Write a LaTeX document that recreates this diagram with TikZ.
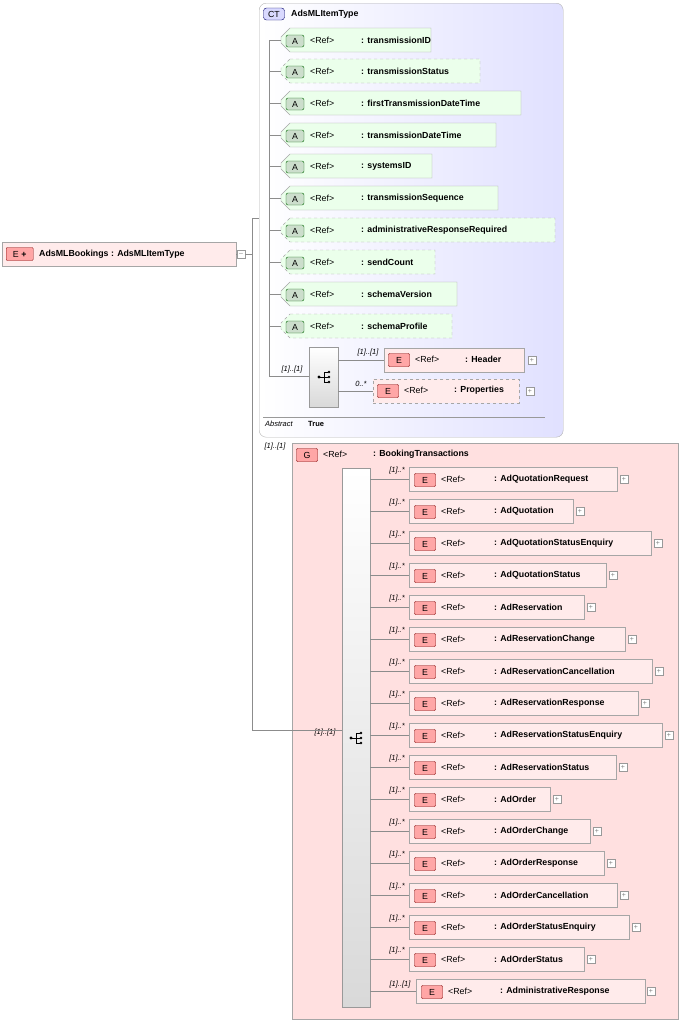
\documentclass[tikz,border=0pt]{standalone}
\usepackage{fontspec}
\setmainfont{Liberation Sans}
\begin{document}
\begin{tikzpicture}[x=1pt,y=-1pt,font=\fontsize{8.8}{10}\selectfont,
  lin/.style={draw=black!45,line width=0.5pt},
  elbox/.style={draw=black!35,fill=red!8,minimum height=24pt,anchor=west,inner sep=0pt},
  attbox/.style={draw=black!35,fill=green!8},
  badgeE/.style={draw=red!50!black,fill=red!35,rounded corners=1pt,minimum width=21pt,minimum height=13pt,inner sep=0pt,font=\fontsize{8.8}{10}\selectfont},
  badgeA/.style={draw=green!40!black,fill=green!35!black!20!white,rounded corners=2pt,minimum width=18pt,minimum height=12pt,inner sep=0pt},
  card/.style={font=\itshape\fontsize{7.5}{9}\selectfont,inner sep=0pt},
  lbl/.style={font=\bfseries\fontsize{8.8}{10}\selectfont,anchor=west,inner sep=0pt},
  reff/.style={anchor=west,inner sep=0pt},
  plus/.style={draw=black!40,fill=white,minimum size=8pt,inner sep=0pt,font=\fontsize{7}{7}\selectfont,text=black!50},
  seqbox/.style={draw=black!40,top color=white,bottom color=black!15,inner sep=0pt,anchor=north west}]
\useasboundingbox (0,0) rectangle (683,1023);
\newcommand\seqicon[2]{%
  \fill (#1-5,#2) circle (1.6pt);
  \draw[line width=0.8pt] (#1-5,#2) -- (#1,#2) (#1,#2-5) -- (#1,#2+5) (#1,#2-5) -- (#1+4,#2-5) (#1,#2) -- (#1+4,#2) (#1,#2+5) -- (#1+4,#2+5);
  \fill (#1+5,#2-5) circle (1.4pt) (#1+5,#2) circle (1.4pt) (#1+5,#2+5) circle (1.4pt);}

% root element
\node[elbox,minimum width=234pt] (root) at (2,254) {};
\node[badgeE,anchor=west,minimum width=27pt] (rootb) at (6,254) {E \textbf{+}};
\node[lbl] at (39,254) {AdsMLBookings : AdsMLItemType};
\node[plus] (rootm) at (241,254) {--};
\coordinate (j1) at (252,254);
\coordinate (jt) at (252,218);
\coordinate (jb) at (252,730);
\draw[lin] (root.east) -- (rootm.west) (rootm.east) -- (j1);
\draw[lin] (jt) -- (jb);

% complex type
\node[draw=black!30,rounded corners=7pt,left color=white,right color=blue!12,minimum width=304pt,minimum height=434pt,anchor=north west,inner sep=0pt] (ct) at (259,3) {};
\coordinate (cte) at (259,218);
\draw[lin] (jt) -- (cte);
\node[draw=blue!40!black,fill=blue!15,rounded corners=3pt,minimum width=21pt,minimum height=12pt,inner sep=0pt] at (274,14) {CT};
\node[lbl] at (291,14) {AdsMLItemType};
\coordinate (ca) at (269,40);
\coordinate (cb) at (269,376);
\draw[lin] (ca) -- (cb);
\foreach \y/\r/\n/\d in {40/431/transmissionID/solid,71/480/transmissionStatus/dashed,103/521/firstTransmissionDateTime/solid,135/496/transmissionDateTime/solid,166/432/systemsID/solid,198/498/transmissionSequence/solid,230/555/administrativeResponseRequired/dashed,262/435/sendCount/dashed,294/457/schemaVersion/solid,326/452/schemaProfile/dashed}{
  \draw[attbox,\d] (290,\y-12) -- (\r,\y-12) -- (\r,\y+12) -- (290,\y+12) -- (281,\y+3) -- (281,\y-3) -- cycle;
  \coordinate (a\y) at (281,\y);
  \draw[lin] (269,\y) -- (a\y);
  \node[badgeA] at (295,\y+1) {A};
  \node[reff] at (310,\y) {<Ref>};
  \node[lbl] at (361,\y) {: \n};
}
\node[seqbox,minimum width=29pt,minimum height=60pt] (cs) at (309,347) {};
\seqicon{324}{377}
\node[card] at (292,370) {[1]..[1]};
\draw[lin] (cb) -- (cs.west |- cb);
\node[elbox,minimum width=140pt] (hd) at (384,360) {};
\node[badgeE] at (399,360) {E};
\node[reff] at (415,359) {<Ref>};
\node[lbl] at (465,359) {: Header};
\node[plus] (hdp) at (532,360) {+};
\draw[lin] (cs.east |- hd) -- (hd.west);
\node[card] at (368,353) {[1]..[1]};
\node[elbox,dashed,minimum width=146pt] (pr) at (373,391) {};
\node[badgeE] at (388,391) {E};
\node[reff] at (404,390) {<Ref>};
\node[lbl] at (454,390) {: Properties};
\node[plus] (prp) at (530,391) {+};
\draw[lin] (cs.east |- pr) -- (pr.west);
\node[card] at (361,384) {0..*};
\draw[black!40] (263,417) -- (545,417);
\node[reff,font=\itshape\fontsize{7.5}{8}\selectfont] at (265,424) {Abstract};
\node[lbl,font=\bfseries\fontsize{7.5}{8}\selectfont] at (308,424) {True};

% group
\node[card] at (275,447) {[1]..[1]};
\node[draw=black!35,fill=red!12,minimum width=386pt,minimum height=576pt,anchor=north west,inner sep=0pt] (grp) at (292,443) {};
\node[badgeE] at (307,455) {G};
\node[reff] at (323,454) {<Ref>};
\node[lbl] at (373,454) {: BookingTransactions};
\node[seqbox,minimum width=28pt,minimum height=539pt] (gs) at (342,468) {};
\seqicon{356}{738}
\node[card] at (325,733) {[1]..[1]};
\draw[lin] (jb) -- (gs.west |- jb);
\foreach \y/\r/\n in {479/617/AdQuotationRequest,511/573/AdQuotation,543/651/AdQuotationStatusEnquiry,575/606/AdQuotationStatus,607/584/AdReservation,639/625/AdReservationChange,671/652/AdReservationCancellation,703/638/AdReservationResponse,735/662/AdReservationStatusEnquiry,767/616/AdReservationStatus,799/550/AdOrder,831/590/AdOrderChange,863/604/AdOrderResponse,895/617/AdOrderCancellation,927/629/AdOrderStatusEnquiry,959/584/AdOrderStatus}{
  \pgfmathsetmacro\w{\r-409}
  \node[elbox,minimum width=\w pt] (e\y) at (409,\y) {};
  \node[badgeE] at (425,\y+1) {E};
  \node[reff] at (441,\y) {<Ref>};
  \node[lbl] at (494,\y) {: \n};
  \node[plus] at (\r+7,\y) {+};
  \draw[lin] (gs.east |- e\y) -- (e\y.west);
  \node[card] at (397,\y-8) {[1]..*};
}
\node[elbox,minimum width=229pt] (e991) at (416,991) {};
\node[badgeE] at (432,992) {E};
\node[reff] at (448,991) {<Ref>};
\node[lbl] at (500,991) {: AdministrativeResponse};
\node[plus] at (651,991) {+};
\draw[lin] (gs.east |- e991) -- (e991.west);
\node[card] at (400,985) {[1]..[1]};
\end{tikzpicture}
\end{document}
